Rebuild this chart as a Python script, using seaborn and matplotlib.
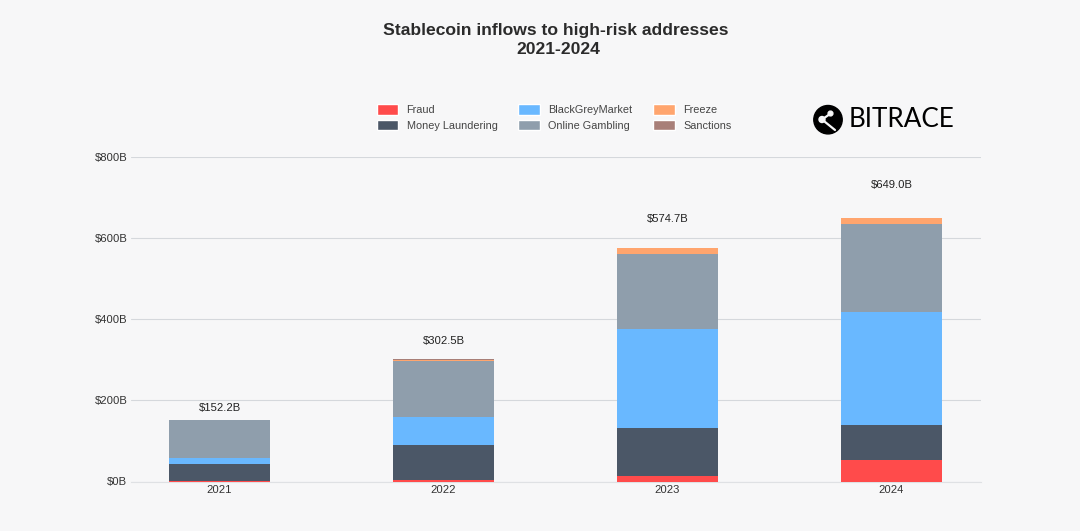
import matplotlib
matplotlib.use("Agg")
import matplotlib.pyplot as plt
import seaborn as sns
import numpy as np
from matplotlib.patches import Circle, Patch

sns.set_theme(style="white")
plt.rcParams['font.family'] = ['Liberation Sans', 'DejaVu Sans']

years = ["2021", "2022", "2023", "2024"]
fraud = [2, 4, 13.5, 53]
laundering = [41, 85, 118, 86]
blackgrey = [15.5, 70, 244.5, 278]
gambling = [92, 138, 185, 217]
freeze = [1.2, 3, 13.2, 15]
sanctions = [0.5, 2.5, 0.5, 0]
totals = ["$152.2B", "$302.5B", "$574.7B", "$649.0B"]
total_values = [152.2, 302.5, 574.7, 649.0]
y_ticks = [0, 200, 400, 600, 800]
y_labels = ["$0B", "$200B", "$400B", "$600B", "$800B"]

series = [
    ("Fraud", fraud, "#ff4b4b"),
    ("Money Laundering", laundering, "#4b5767"),
    ("BlackGreyMarket", blackgrey, "#69b8ff"),
    ("Online Gambling", gambling, "#8f9eac"),
    ("Freeze", freeze, "#ffa56e"),
    ("Sanctions", sanctions, "#a87f78"),
]

BG = "#f7f7f8"
W, H = 1080, 531
fig = plt.figure(figsize=(W / 100, H / 100), dpi=100, facecolor=BG)
L, R, T, B = 131, 981, 156.5, 481.5
ax = fig.add_axes([L / W, 1 - B / H, (R - L) / W, (B - T) / H], facecolor=BG)

bottom = np.zeros(len(years))
handles = []
for name, vals, col in series:
    sns.barplot(x=years, y=vals, bottom=bottom, color=col, saturation=1,
                width=0.451, ax=ax, zorder=3, errorbar=None, linewidth=0)
    bottom = bottom + np.array(vals)
    handles.append(Patch(facecolor=col, label=name))

ax.set_xlim(-0.395, 3.4)
ax.set_ylim(0, 800)
ax.set_yticks(y_ticks)
ax.set_yticklabels(y_labels, fontsize=8.1, color="#333333")
ax.tick_params(axis="x", length=0, pad=2.2, labelsize=8.1, labelcolor="#333333")
ax.tick_params(axis="y", length=0, pad=2.6)
ax.grid(axis="y", color="#d5d8dc", linewidth=0.8, zorder=0)
ax.set_axisbelow(True)
ax.set_xlabel("")
ax.set_ylabel("")
for s in ax.spines.values():
    s.set_visible(False)
ax.spines["bottom"].set_visible(True)
ax.spines["bottom"].set_color("#dfe1e4")
ax.spines["bottom"].set_linewidth(0.8)

offsets = [11.5, 17.5, 29.5, 32.5]
for i, (txt, v) in enumerate(zip(totals, total_values)):
    ax.annotate(txt, (i, v), xytext=(0, offsets[i] / 100 * 72), textcoords="offset points",
                ha="center", va="center", fontsize=8.1, color="#222222")

fig.text(556 / W, 1 - 30 / H, "Stablecoin inflows to high-risk addresses", ha="center", va="center",
         fontsize=12.6, fontweight="bold", color="#2b2b2b")
fig.text(558 / W, 1 - 49 / H, "2021-2024", ha="center", va="center",
         fontsize=12.6, fontweight="bold", color="#2b2b2b")

fig.legend(handles=handles, ncol=3, loc="upper left", bbox_to_anchor=(376.5 / W, 1 - 104.5 / H),
           frameon=False, fontsize=7.8, handlelength=2.03, handleheight=1.05, handletextpad=0.75,
           columnspacing=1.9, labelspacing=0.46, labelcolor="#444444", borderpad=0, borderaxespad=0)

# logo: full-figure overlay in pixel coordinates
ov = fig.add_axes([0, 0, 1, 1], facecolor="none")
ov.set_xlim(0, W)
ov.set_ylim(H, 0)
ov.axis("off")
ov.add_patch(Circle((828, 119.7), 14.2, color="black"))
ov.plot([822, 830], [119.5, 114], color=BG, lw=1.6, solid_capstyle="round")
ov.plot([822, 835], [119.5, 130], color=BG, lw=1.6, solid_capstyle="round")
for cx, cy, r in [(822, 119.5, 3.0), (830.5, 113.5, 2.4)]:
    ov.add_patch(Circle((cx, cy), r, color=BG))
ov.text(849, 119.8, "BITRACE", ha="left", va="center", fontsize=18.7, color="black",
        family=["Lato"])

fig.savefig("out.png", dpi=100, facecolor=BG)
